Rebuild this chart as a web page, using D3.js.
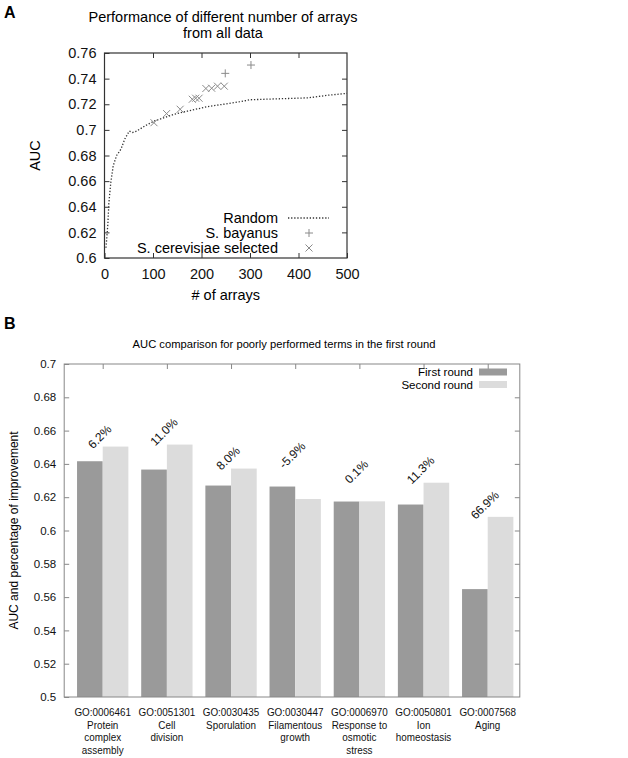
<!DOCTYPE html>
<html><head><meta charset="utf-8">
<script src="https://cdn.jsdelivr.net/npm/d3@7"></script>
<style>
body{margin:0;background:#fff}
svg{display:block;font-family:"Liberation Sans",Arial,Helvetica,sans-serif}
</style>
</head><body><svg id="c" width="628" height="758"></svg>
<script>
// ---------- Panel A data ----------
const randomArrays = [3, 5, 7, 9, 13, 18, 25, 34, 42, 51, 58, 66, 83, 103, 142, 175, 211, 245, 279, 300, 338, 380, 420, 460, 500];
const randomAUC    = [0.608, 0.617, 0.627, 0.643, 0.659, 0.672, 0.680, 0.685, 0.693, 0.699, 0.698, 0.699, 0.703, 0.707, 0.712, 0.715, 0.718, 0.720, 0.722, 0.7235, 0.724, 0.7245, 0.725, 0.727, 0.7285];
const bayanusArrays = [249, 302];
const bayanusAUC    = [0.7441, 0.7506];
const cerevisiaeArrays = [102, 128, 156, 181, 188, 195, 209, 221, 233, 247];
const cerevisiaeAUC    = [0.7056, 0.7127, 0.7161, 0.7239, 0.7247, 0.7247, 0.7323, 0.7325, 0.7341, 0.7341];
const xTicksA = [0, 100, 200, 300, 400, 500];
const yTicksA = [0.6, 0.62, 0.64, 0.66, 0.68, 0.7, 0.72, 0.74, 0.76];
const legendA = ["Random", "S. bayanus", "S. cerevisiae selected"];

// ---------- Panel B data ----------
const termIds = ["GO:0006461", "GO:0051301", "GO:0030435", "GO:0030447", "GO:0006970", "GO:0050801", "GO:0007568"];
const termNames = [["Protein", "complex", "assembly"], ["Cell", "division"], ["Sporulation"], ["Filamentous", "growth"], ["Response to", "osmotic", "stress"], ["Ion", "homeostasis"], ["Aging"]];
const firstRound  = [0.6416, 0.6366, 0.6270, 0.6264, 0.6174, 0.6156, 0.5648];
const secondRound = [0.6504, 0.6516, 0.6372, 0.6189, 0.6175, 0.6287, 0.6082];
const improvement = ["6.2%", "11.0%", "8.0%", "-5.9%", "0.1%", "11.3%", "66.9%"];
const improvementLabelAUC = [0.6563, 0.6593, 0.6435, 0.6453, 0.6353, 0.6363, 0.6153];
const yTicksB = [0.5, 0.52, 0.54, 0.56, 0.58, 0.6, 0.62, 0.64, 0.66, 0.68, 0.7];
const legendB = ["First round", "Second round"];

const fmt = v => String(+v.toFixed(2));
const svg = d3.select("#c");

// ================= Panel A =================
const fA = 14.5;
svg.append("text").attr("x", 4).attr("y", 18).attr("font-size", 16).attr("font-weight", "bold").text("A");
const xA = d3.scaleLinear().domain([0, 500]).range([104.5, 347]);
const yA = d3.scaleLinear().domain([0.6, 0.76]).range([258, 53]);
const gA = svg.append("g");

gA.append("text").attr("x", 223).attr("y", 22).attr("text-anchor", "middle").attr("font-size", fA)
  .text("Performance of different number of arrays");
gA.append("text").attr("x", 223).attr("y", 38).attr("text-anchor", "middle").attr("font-size", fA)
  .text("from all data");

function styleAxis(g, color, fs, tcolor) {
  g.select(".domain").remove();
  g.selectAll(".tick line").attr("stroke", color);
  g.selectAll(".tick text").attr("font-size", fs).attr("fill", tcolor).attr("font-family", null);
  g.attr("font-family", null);
}
const axLA = gA.append("g").attr("transform", `translate(${xA(0)},0)`)
  .call(d3.axisLeft(yA).tickValues(yTicksA).tickFormat(fmt).tickSize(-5).tickPadding(8));
styleAxis(axLA, "#333", fA, "#111");
const axRA = gA.append("g").attr("transform", `translate(${xA(500)},0)`)
  .call(d3.axisRight(yA).tickValues(yTicksA.slice(1, -1)).tickFormat("").tickSize(-5));
styleAxis(axRA, "#333", fA, "#111");
const axBA = gA.append("g").attr("transform", `translate(0,${yA(0.6)})`)
  .call(d3.axisBottom(xA).tickValues(xTicksA).tickFormat(d3.format("d")).tickSize(-5).tickPadding(11));
styleAxis(axBA, "#333", fA, "#111");
const axTA = gA.append("g").attr("transform", `translate(0,${yA(0.76)})`)
  .call(d3.axisTop(xA).tickValues(xTicksA.slice(1, -1)).tickFormat("").tickSize(-5));
styleAxis(axTA, "#333", fA, "#111");
gA.append("rect").attr("x", xA(0)).attr("y", yA(0.76)).attr("width", xA(500) - xA(0)).attr("height", yA(0.6) - yA(0.76))
  .attr("fill", "none").attr("stroke", "#333").attr("stroke-width", 1.2);

gA.append("text").attr("transform", `translate(40,${(yA(0.6) + yA(0.76)) / 2}) rotate(-90)`)
  .attr("text-anchor", "middle").attr("font-size", fA).text("AUC");
gA.append("text").attr("x", (xA(0) + xA(500)) / 2).attr("y", 300).attr("text-anchor", "middle").attr("font-size", fA).text("# of arrays");

// random line
const line = d3.line().x((d, i) => xA(randomArrays[i])).y(d => yA(d));
gA.append("path").datum(randomAUC).attr("d", line).attr("fill", "none")
  .attr("stroke", "#333").attr("stroke-width", 1.3).attr("stroke-dasharray", "1.3,1.8");

const markColor = "#8a8a8a";
function plus(g, cx, cy, s) {
  g.append("path").attr("d", `M${cx - s},${cy}H${cx + s}M${cx},${cy - s}V${cy + s}`).attr("stroke", markColor).attr("stroke-width", 1);
}
function cross(g, cx, cy, s) {
  g.append("path").attr("d", `M${cx - s},${cy - s}L${cx + s},${cy + s}M${cx - s},${cy + s}L${cx + s},${cy - s}`).attr("stroke", markColor).attr("stroke-width", 1);
}
bayanusAUC.forEach((v, i) => plus(gA, xA(bayanusArrays[i]), yA(v), 4));
cerevisiaeAUC.forEach((v, i) => cross(gA, xA(cerevisiaeArrays[i]), yA(v), 3.5));

// legend A
const legA = gA.append("g");
const legY = [218, 233, 248];
legendA.forEach((t, i) => {
  legA.append("text").attr("x", 278).attr("y", legY[i] + 5).attr("text-anchor", "end").attr("font-size", fA).text(t);
});
legA.append("line").attr("x1", 288).attr("x2", 329).attr("y1", legY[0]).attr("y2", legY[0])
  .attr("stroke", "#333").attr("stroke-width", 1.3).attr("stroke-dasharray", "1.3,1.8");
plus(legA, 309, legY[1], 4);
cross(legA, 309, legY[2], 3.5);

// ================= Panel B =================
const fB = 11;
svg.append("text").attr("x", 4).attr("y", 329).attr("font-size", 16).attr("font-weight", "bold").text("B");
const xB = d3.scaleLinear().domain([-0.6, 6.5]).range([64.2, 519.8]);
const yB = d3.scaleLinear().domain([0.5, 0.7]).range([697, 364]);
const gB = svg.append("g");
const idx = d3.range(termIds.length);

gB.append("text").attr("x", 284).attr("y", 348).attr("text-anchor", "middle").attr("font-size", 11.2)
  .text("AUC comparison for poorly performed terms in the first round");

const barW = 0.4;
gB.selectAll(".b1").data(firstRound).join("rect").attr("class", "b1")
  .attr("x", (d, i) => xB(i - barW)).attr("width", xB(barW) - xB(0))
  .attr("y", d => yB(d)).attr("height", d => yB(0.5) - yB(d)).attr("fill", "#9a9a9a");
gB.selectAll(".b2").data(secondRound).join("rect").attr("class", "b2")
  .attr("x", (d, i) => xB(i)).attr("width", xB(barW) - xB(0))
  .attr("y", d => yB(d)).attr("height", d => yB(0.5) - yB(d)).attr("fill", "#dcdcdc");

const axLB = gB.append("g").attr("transform", `translate(${xB(-0.6)},0)`)
  .call(d3.axisLeft(yB).tickValues(yTicksB).tickFormat(fmt).tickSize(-5).tickPadding(8));
styleAxis(axLB, "#888", 11.5, "#111");
const axRB = gB.append("g").attr("transform", `translate(${xB(6.5)},0)`)
  .call(d3.axisRight(yB).tickValues(yTicksB.slice(1, -1)).tickFormat("").tickSize(-5));
styleAxis(axRB, "#888", fB, "#111");
const axTB = gB.append("g").attr("transform", `translate(0,${yB(0.7)})`)
  .call(d3.axisTop(xB).tickValues(idx).tickFormat("").tickSize(-5));
styleAxis(axTB, "#888", fB, "#111");
gB.append("rect").attr("x", xB(-0.6)).attr("y", yB(0.7)).attr("width", xB(6.5) - xB(-0.6)).attr("height", yB(0.5) - yB(0.7))
  .attr("fill", "none").attr("stroke", "#888").attr("stroke-width", 1);

// category labels
idx.forEach(i => {
  const lines = [termIds[i]].concat(termNames[i]);
  lines.forEach((t, k) => {
    gB.append("text").attr("transform", `translate(${xB(i)},${716 + k * 12.5}) scale(0.86,1)`)
      .attr("text-anchor", "middle").attr("font-size", 11.5).attr("fill", "#111").text(t);
  });
});

// improvement labels
idx.forEach(i => {
  gB.append("text").attr("transform", `translate(${xB(i) - 3},${yB(improvementLabelAUC[i])}) rotate(-45)`)
    .attr("text-anchor", "middle").attr("dy", "0.35em").attr("font-size", 12).attr("fill", "#111").text(improvement[i]);
});

gB.append("text").attr("transform", `translate(18,${(yB(0.5) + yB(0.7)) / 2}) rotate(-90)`)
  .attr("text-anchor", "middle").attr("font-size", 12).text("AUC and percentage of improvement");

// legend B
const legBY = [372, 384.5];
const legColors = ["#9a9a9a", "#dcdcdc"];
legendB.forEach((t, i) => {
  gB.append("text").attr("x", 473).attr("y", legBY[i] + 4).attr("text-anchor", "end").attr("font-size", 11.5).text(t);
  gB.append("rect").attr("x", 479).attr("y", legBY[i] - 3.5).attr("width", 28).attr("height", 7).attr("fill", legColors[i]);
});
</script>
</body></html>
